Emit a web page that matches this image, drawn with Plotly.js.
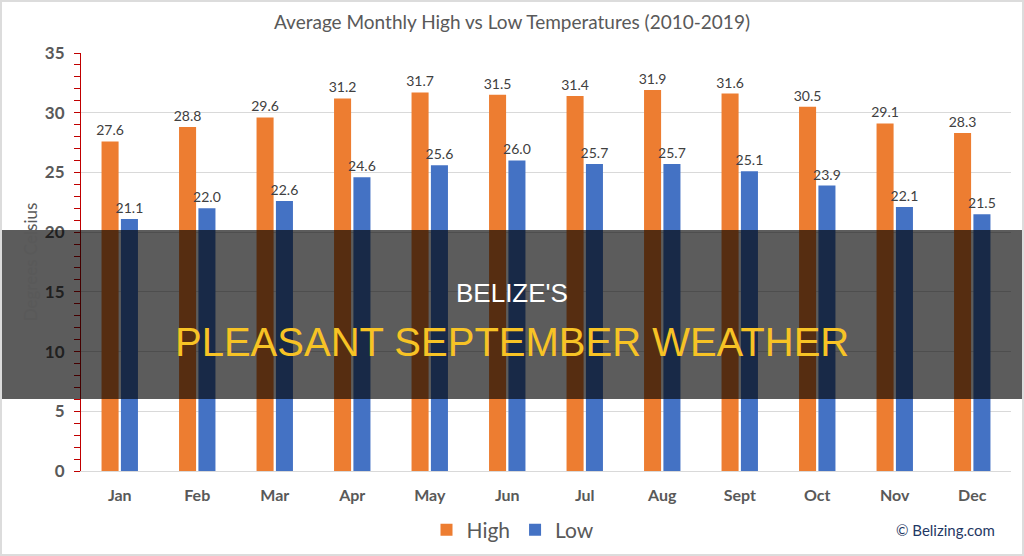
<!DOCTYPE html>
<html><head><meta charset="utf-8">
<script src="https://cdn.plot.ly/plotly-3.0.1.min.js"></script>
<style>html,body{margin:0;padding:0;background:#fff;}#wrap{position:relative;width:1024px;height:556px;}#chart{width:1024px;height:556px;}#frame{position:absolute;left:0;top:0;width:1020px;height:552px;border:2px solid #dcdcdc;pointer-events:none;}</style>
</head><body>
<div id="wrap"><div id="chart"></div><div id="frame"></div></div>
<script>
const months = ["Jan","Feb","Mar","Apr","May","Jun","Jul","Aug","Sept","Oct","Nov","Dec"];
const highTemps = [27.6,28.8,29.6,31.2,31.7,31.5,31.4,31.9,31.6,30.5,29.1,28.3];
const lowTemps = [21.1,22.0,22.6,24.6,25.6,26.0,25.7,25.7,25.1,23.9,22.1,21.5];
const yTicks = [0,5,10,15,20,25,30,35];

const F = "Lato, 'Liberation Sans', sans-serif";
const grey = "#595959";
const PT = 53, PB = 471, PL = 81, PR = 1011;
const PH = PB - PT, PW = PR - PL;
const py = v => (PB - v) / PH;
const px = v => (v - PL) / PW;
const traces = [
  {type:"bar", name:"High", x:months, y:highTemps, marker:{color:"#ED7D31"},
   texttemplate:"%{y:.1f}", textposition:"outside", cliponaxis:false, constraintext:"none",
   textfont:{family:F,size:14,color:"#404040"}},
  {type:"bar", name:"Low", x:months, y:lowTemps, marker:{color:"#4472C4"},
   texttemplate:"%{y:.1f}", textposition:"outside", cliponaxis:false, constraintext:"none",
   textfont:{family:F,size:14,color:"#404040"}}
];
const layout = {
  width:1024, height:556,
  margin:{l:PL,r:1024-PR,t:PT,b:556-PB, autoexpand:false},
  paper_bgcolor:"#fff", plot_bgcolor:"#fff",
  font:{family:F,color:grey},
  title:{text:"Average Monthly High vs Low Temperatures (2010-2019)", font:{family:F,size:19,color:grey},
    x:0.5, xref:"container", xanchor:"center", y:1-22/556, yref:"container", yanchor:"middle"},
  barmode:"group", bargap:0.5, bargroupgap:0.12,
  xaxis:{tickfont:{family:F,size:16,color:grey,weight:"bold"}, showline:true, linecolor:"#d9d9d9",
    ticks:"", ticklabelstandoff:10, fixedrange:true, automargin:false},
  yaxis:{range:[0,35], tickvals:yTicks, showgrid:true, gridcolor:"#d9d9d9", zeroline:false,
    showline:true, linecolor:"#c00000", linewidth:1, ticks:"outside", ticklen:6, tickcolor:"#c00000",
    minor:{dtick:1, ticks:"outside", ticklen:6, tickcolor:"#c00000", showgrid:false},
    tickfont:{family:F,size:17,color:grey,weight:"bold"}, ticklabelstandoff:6, automargin:false,
    title:{text:"Degrees Celsius", font:{family:F,size:17,color:grey}, standoff:2}},
  showlegend:true,
  legend:{orientation:"h", x:px(513), xanchor:"center", y:py(530), yanchor:"middle",
    font:{family:F,size:21,color:grey}, itemwidth:30},
  shapes:[{type:"rect", xref:"paper", yref:"paper", x0:px(0), x1:px(1024),
    y0:py(399), y1:py(230), fillcolor:"rgba(0,0,0,0.64)", line:{width:0}, layer:"above"}],
  annotations:[
    {text:"BELIZE'S", xref:"paper", yref:"paper", x:px(512), y:py(293), xanchor:"center", yanchor:"middle", showarrow:false,
     font:{family:"'Liberation Sans', Arial, sans-serif", size:26, color:"#ffffff"}},
    {text:"PLEASANT SEPTEMBER WEATHER", xref:"paper", yref:"paper", x:px(512), y:py(342), xanchor:"center", yanchor:"middle", showarrow:false,
     font:{family:"'Liberation Sans', Arial, sans-serif", size:40, color:"#F7C325"}},
    {text:"© Belizing.com", xref:"paper", yref:"paper", x:px(945), y:py(530), xanchor:"center", yanchor:"middle", showarrow:false,
     font:{family:F, size:15, color:"#1F3864"}}
  ]
};
Plotly.newPlot("chart", traces, layout, {displayModeBar:false, staticPlot:true});
</script>
</body></html>
